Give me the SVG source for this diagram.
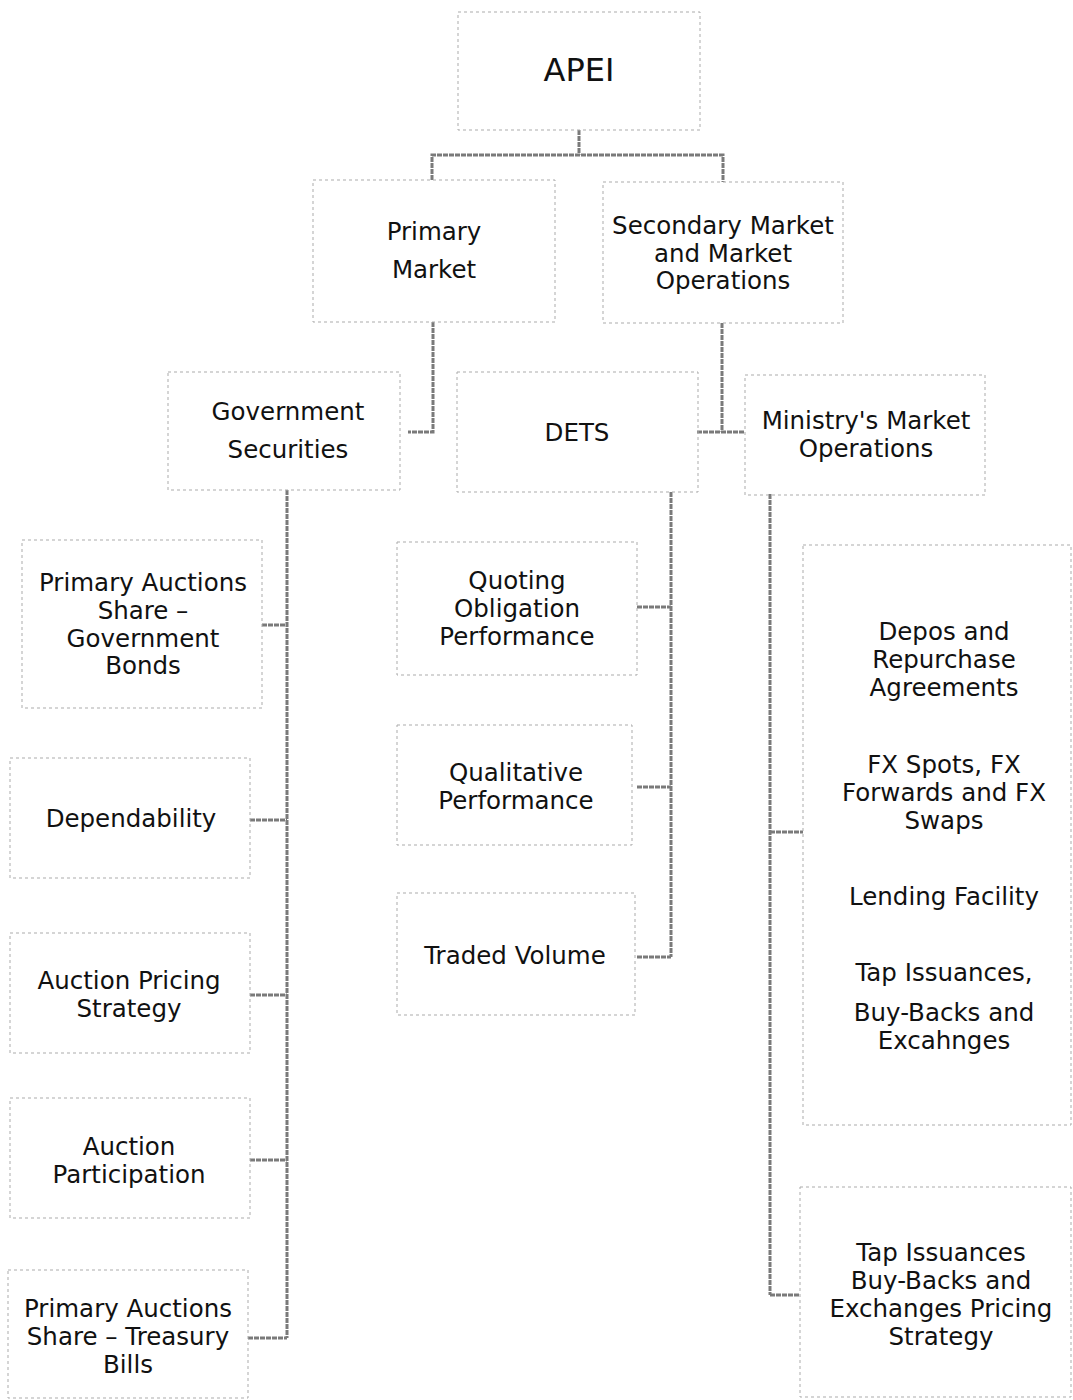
<svg xmlns="http://www.w3.org/2000/svg" width="1073" height="1400" viewBox="0 0 1073 1400">
<style>
  .box { fill: none; stroke: #ababab; stroke-width: 1; stroke-dasharray: 3 3; }
  .lbl { font-family: "DejaVu Sans", Verdana, sans-serif; font-size: 24.5px; fill: #111; text-anchor: middle; }
  .big { font-size: 32px; }
  .conn { fill: none; stroke: #7a7a7a; stroke-width: 3; stroke-dasharray: 5 1; }
</style>
<rect width="1073" height="1400" fill="#fff"/>
<g id="connectors">
  <path class="conn" d="M579 130 V155 M432 180 V155 H723 V182"/>
  <path class="conn" d="M433 322 V432 H408"/>
  <path class="conn" d="M722 323 V432 M697 432 H745"/>
  <path class="conn" d="M287 490 V1338 M262 625 H287 M250 820 H287 M250 995 H287 M250 1160 H287 M248 1338 H287"/>
  <path class="conn" d="M671 492 V957 M637 607 H671 M637 787 H671 M637 957 H671"/>
  <path class="conn" d="M770 494 V1295 M770 832 H803 M770 1295 H800"/>
</g>
<g id="apei">
  <rect class="box" x="458" y="12" width="242" height="118"/>
  <text class="lbl big" x="579" y="81">APEI</text>
</g>
<g id="primary-market">
  <rect class="box" x="313" y="180" width="242" height="142"/>
  <text class="lbl" x="434" y="240">Primary</text>
  <text class="lbl" x="434" y="278">Market</text>
</g>
<g id="secondary-market">
  <rect class="box" x="603" y="182" width="240" height="141"/>
  <text class="lbl" x="723" y="234">Secondary Market</text>
  <text class="lbl" x="723" y="262">and Market</text>
  <text class="lbl" x="723" y="289">Operations</text>
</g>
<g id="government-securities">
  <rect class="box" x="168" y="372" width="232" height="118"/>
  <text class="lbl" x="288" y="420">Government</text>
  <text class="lbl" x="288" y="458">Securities</text>
</g>
<g id="dets">
  <rect class="box" x="457" y="372" width="241" height="120"/>
  <text class="lbl" x="577" y="441">DETS</text>
</g>
<g id="ministry-market-operations">
  <rect class="box" x="745" y="375" width="240" height="120"/>
  <text class="lbl" x="866" y="429">Ministry's Market</text>
  <text class="lbl" x="866" y="457">Operations</text>
</g>
<g id="pas-government-bonds">
  <rect class="box" x="22" y="540" width="240" height="168"/>
  <text class="lbl" x="143" y="591">Primary Auctions</text>
  <text class="lbl" x="143" y="619">Share –</text>
  <text class="lbl" x="143" y="647">Government</text>
  <text class="lbl" x="143" y="674">Bonds</text>
</g>
<g id="dependability">
  <rect class="box" x="10" y="758" width="240" height="120"/>
  <text class="lbl" x="131" y="827">Dependability</text>
</g>
<g id="auction-pricing-strategy">
  <rect class="box" x="10" y="933" width="240" height="120"/>
  <text class="lbl" x="129" y="989">Auction Pricing</text>
  <text class="lbl" x="129" y="1017">Strategy</text>
</g>
<g id="auction-participation">
  <rect class="box" x="10" y="1098" width="240" height="120"/>
  <text class="lbl" x="129" y="1155">Auction</text>
  <text class="lbl" x="129" y="1183">Participation</text>
</g>
<g id="pas-treasury-bills">
  <rect class="box" x="8" y="1270" width="240" height="128"/>
  <text class="lbl" x="128" y="1317">Primary Auctions</text>
  <text class="lbl" x="128" y="1345">Share – Treasury</text>
  <text class="lbl" x="128" y="1373">Bills</text>
</g>
<g id="quoting-obligation">
  <rect class="box" x="397" y="542" width="240" height="133"/>
  <text class="lbl" x="517" y="589">Quoting</text>
  <text class="lbl" x="517" y="617">Obligation</text>
  <text class="lbl" x="517" y="645">Performance</text>
</g>
<g id="qualitative-performance">
  <rect class="box" x="397" y="725" width="235" height="120"/>
  <text class="lbl" x="516" y="781">Qualitative</text>
  <text class="lbl" x="516" y="809">Performance</text>
</g>
<g id="traded-volume">
  <rect class="box" x="397" y="893" width="238" height="122"/>
  <text class="lbl" x="515" y="964">Traded Volume</text>
</g>
<g id="market-operations-list">
  <rect class="box" x="803" y="545" width="268" height="580"/>
  <text class="lbl" x="944" y="640">Depos and</text>
  <text class="lbl" x="944" y="668">Repurchase</text>
  <text class="lbl" x="944" y="696">Agreements</text>
  <text class="lbl" x="944" y="773">FX Spots, FX</text>
  <text class="lbl" x="944" y="801">Forwards and FX</text>
  <text class="lbl" x="944" y="829">Swaps</text>
  <text class="lbl" x="944" y="905">Lending Facility</text>
  <text class="lbl" x="944" y="981">Tap Issuances,</text>
  <text class="lbl" x="944" y="1021">Buy-Backs and</text>
  <text class="lbl" x="944" y="1049">Excahnges</text>
</g>
<g id="tap-pricing-strategy">
  <rect class="box" x="800" y="1187" width="271" height="210"/>
  <text class="lbl" x="941" y="1261">Tap Issuances</text>
  <text class="lbl" x="941" y="1289">Buy-Backs and</text>
  <text class="lbl" x="941" y="1317">Exchanges Pricing</text>
  <text class="lbl" x="941" y="1345">Strategy</text>
</g>
</svg>
